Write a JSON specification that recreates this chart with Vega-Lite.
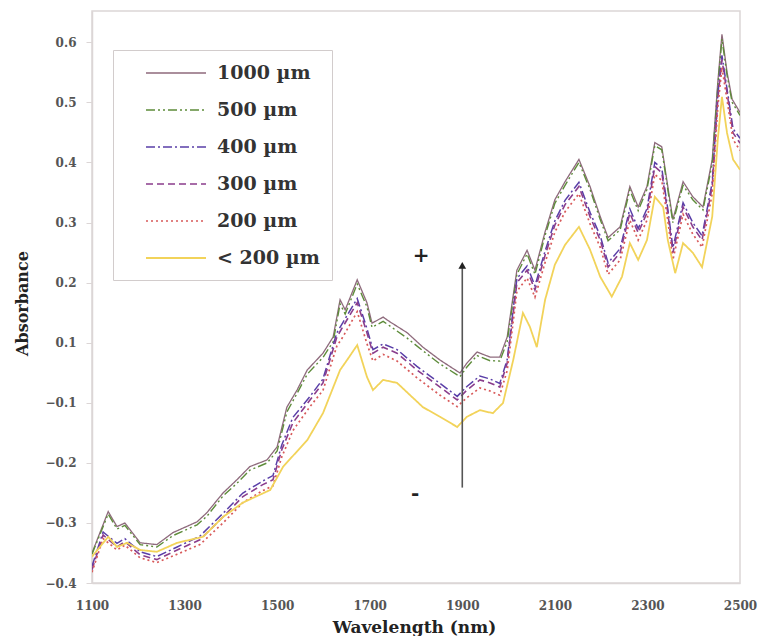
{
  "$schema": "https://vega.github.io/schema/vega-lite/v6.json",
  "width": 648,
  "height": 572,
  "autosize": {"type": "none"},
  "padding": {"left": 92, "top": 11, "right": 21, "bottom": 53},
  "background": "white",
  "datasets": {
    "spectra": [
      {"s":"1000 µm","w":1100,"a":-0.350},{"s":"1000 µm","w":1135,"a":-0.281},{"s":"1000 µm","w":1154,"a":-0.306},{"s":"1000 µm","w":1171,"a":-0.300},{"s":"1000 µm","w":1204,"a":-0.333},{"s":"1000 µm","w":1240,"a":-0.336},{"s":"1000 µm","w":1275,"a":-0.316},{"s":"1000 µm","w":1327,"a":-0.298},{"s":"1000 µm","w":1348,"a":-0.283},{"s":"1000 µm","w":1383,"a":-0.250},{"s":"1000 µm","w":1413,"a":-0.228},{"s":"1000 µm","w":1441,"a":-0.206},{"s":"1000 µm","w":1478,"a":-0.195},{"s":"1000 µm","w":1500,"a":-0.173},{"s":"1000 µm","w":1521,"a":-0.107},{"s":"1000 µm","w":1543,"a":-0.057},{"s":"1000 µm","w":1565,"a":0.010},{"s":"1000 µm","w":1599,"a":0.066},{"s":"1000 µm","w":1621,"a":0.110},{"s":"1000 µm","w":1636,"a":0.172},{"s":"1000 µm","w":1647,"a":0.155},{"s":"1000 µm","w":1673,"a":0.205},{"s":"1000 µm","w":1694,"a":0.167},{"s":"1000 µm","w":1705,"a":0.133},{"s":"1000 µm","w":1729,"a":0.143},{"s":"1000 µm","w":1744,"a":0.135},{"s":"1000 µm","w":1781,"a":0.117},{"s":"1000 µm","w":1815,"a":0.086},{"s":"1000 µm","w":1852,"a":0.043},{"s":"1000 µm","w":1895,"a":0.000},{"s":"1000 µm","w":1910,"a":0.033},{"s":"1000 µm","w":1932,"a":0.070},{"s":"1000 µm","w":1960,"a":0.053},{"s":"1000 µm","w":1981,"a":0.053},{"s":"1000 µm","w":1997,"a":0.110},{"s":"1000 µm","w":2018,"a":0.221},{"s":"1000 µm","w":2040,"a":0.254},{"s":"1000 µm","w":2057,"a":0.221},{"s":"1000 µm","w":2079,"a":0.285},{"s":"1000 µm","w":2100,"a":0.338},{"s":"1000 µm","w":2122,"a":0.368},{"s":"1000 µm","w":2152,"a":0.405},{"s":"1000 µm","w":2176,"a":0.360},{"s":"1000 µm","w":2198,"a":0.310},{"s":"1000 µm","w":2215,"a":0.275},{"s":"1000 µm","w":2241,"a":0.293},{"s":"1000 µm","w":2262,"a":0.360},{"s":"1000 µm","w":2280,"a":0.326},{"s":"1000 µm","w":2299,"a":0.360},{"s":"1000 µm","w":2316,"a":0.433},{"s":"1000 µm","w":2331,"a":0.426},{"s":"1000 µm","w":2344,"a":0.360},{"s":"1000 µm","w":2355,"a":0.305},{"s":"1000 µm","w":2377,"a":0.368},{"s":"1000 µm","w":2398,"a":0.343},{"s":"1000 µm","w":2420,"a":0.326},{"s":"1000 µm","w":2440,"a":0.405},{"s":"1000 µm","w":2452,"a":0.533},{"s":"1000 µm","w":2461,"a":0.613},{"s":"1000 µm","w":2472,"a":0.550},{"s":"1000 µm","w":2483,"a":0.505},{"s":"1000 µm","w":2500,"a":0.483},

      {"s":"500 µm","w":1100,"a":-0.352},{"s":"500 µm","w":1135,"a":-0.285},{"s":"500 µm","w":1154,"a":-0.310},{"s":"500 µm","w":1171,"a":-0.304},{"s":"500 µm","w":1204,"a":-0.336},{"s":"500 µm","w":1240,"a":-0.340},{"s":"500 µm","w":1275,"a":-0.321},{"s":"500 µm","w":1327,"a":-0.303},{"s":"500 µm","w":1348,"a":-0.289},{"s":"500 µm","w":1383,"a":-0.255},{"s":"500 µm","w":1413,"a":-0.234},{"s":"500 µm","w":1441,"a":-0.212},{"s":"500 µm","w":1478,"a":-0.200},{"s":"500 µm","w":1500,"a":-0.180},{"s":"500 µm","w":1521,"a":-0.115},{"s":"500 µm","w":1543,"a":-0.068},{"s":"500 µm","w":1565,"a":-0.004},{"s":"500 µm","w":1599,"a":0.052},{"s":"500 µm","w":1621,"a":0.102},{"s":"500 µm","w":1636,"a":0.165},{"s":"500 µm","w":1647,"a":0.148},{"s":"500 µm","w":1673,"a":0.198},{"s":"500 µm","w":1694,"a":0.160},{"s":"500 µm","w":1705,"a":0.126},{"s":"500 µm","w":1729,"a":0.136},{"s":"500 µm","w":1744,"a":0.128},{"s":"500 µm","w":1781,"a":0.108},{"s":"500 µm","w":1815,"a":0.074},{"s":"500 µm","w":1852,"a":0.030},{"s":"500 µm","w":1895,"a":-0.012},{"s":"500 µm","w":1910,"a":0.020},{"s":"500 µm","w":1932,"a":0.058},{"s":"500 µm","w":1960,"a":0.041},{"s":"500 µm","w":1981,"a":0.040},{"s":"500 µm","w":1997,"a":0.102},{"s":"500 µm","w":2018,"a":0.214},{"s":"500 µm","w":2040,"a":0.248},{"s":"500 µm","w":2057,"a":0.214},{"s":"500 µm","w":2079,"a":0.279},{"s":"500 µm","w":2100,"a":0.332},{"s":"500 µm","w":2122,"a":0.362},{"s":"500 µm","w":2152,"a":0.400},{"s":"500 µm","w":2176,"a":0.355},{"s":"500 µm","w":2198,"a":0.305},{"s":"500 µm","w":2215,"a":0.270},{"s":"500 µm","w":2241,"a":0.288},{"s":"500 µm","w":2262,"a":0.354},{"s":"500 µm","w":2280,"a":0.320},{"s":"500 µm","w":2299,"a":0.355},{"s":"500 µm","w":2316,"a":0.428},{"s":"500 µm","w":2331,"a":0.421},{"s":"500 µm","w":2344,"a":0.355},{"s":"500 µm","w":2355,"a":0.300},{"s":"500 µm","w":2377,"a":0.362},{"s":"500 µm","w":2398,"a":0.338},{"s":"500 µm","w":2420,"a":0.321},{"s":"500 µm","w":2440,"a":0.398},{"s":"500 µm","w":2452,"a":0.525},{"s":"500 µm","w":2461,"a":0.605},{"s":"500 µm","w":2472,"a":0.545},{"s":"500 µm","w":2483,"a":0.500},{"s":"500 µm","w":2500,"a":0.478},

      {"s":"400 µm","w":1100,"a":-0.372},{"s":"400 µm","w":1124,"a":-0.315},{"s":"400 µm","w":1154,"a":-0.334},{"s":"400 µm","w":1171,"a":-0.326},{"s":"400 µm","w":1204,"a":-0.348},{"s":"400 µm","w":1240,"a":-0.356},{"s":"400 µm","w":1284,"a":-0.340},{"s":"400 µm","w":1333,"a":-0.322},{"s":"400 µm","w":1383,"a":-0.284},{"s":"400 µm","w":1426,"a":-0.250},{"s":"400 µm","w":1469,"a":-0.230},{"s":"400 µm","w":1491,"a":-0.221},{"s":"400 µm","w":1510,"a":-0.170},{"s":"400 µm","w":1534,"a":-0.124},{"s":"400 µm","w":1571,"a":-0.078},{"s":"400 µm","w":1599,"a":-0.020},{"s":"400 µm","w":1629,"a":0.117},{"s":"400 µm","w":1642,"a":0.134},{"s":"400 µm","w":1673,"a":0.174},{"s":"400 µm","w":1694,"a":0.124},{"s":"400 µm","w":1707,"a":0.078},{"s":"400 µm","w":1729,"a":0.097},{"s":"400 µm","w":1759,"a":0.078},{"s":"400 µm","w":1802,"a":0.022},{"s":"400 µm","w":1852,"a":-0.035},{"s":"400 µm","w":1889,"a":-0.078},{"s":"400 µm","w":1910,"a":-0.045},{"s":"400 µm","w":1938,"a":-0.010},{"s":"400 µm","w":1960,"a":-0.020},{"s":"400 µm","w":1981,"a":-0.035},{"s":"400 µm","w":1997,"a":0.045},{"s":"400 µm","w":2018,"a":0.207},{"s":"400 µm","w":2040,"a":0.228},{"s":"400 µm","w":2057,"a":0.195},{"s":"400 µm","w":2079,"a":0.253},{"s":"400 µm","w":2100,"a":0.303},{"s":"400 µm","w":2122,"a":0.337},{"s":"400 µm","w":2152,"a":0.367},{"s":"400 µm","w":2176,"a":0.317},{"s":"400 µm","w":2198,"a":0.278},{"s":"400 µm","w":2215,"a":0.233},{"s":"400 µm","w":2241,"a":0.257},{"s":"400 µm","w":2262,"a":0.323},{"s":"400 µm","w":2280,"a":0.290},{"s":"400 µm","w":2299,"a":0.323},{"s":"400 µm","w":2316,"a":0.400},{"s":"400 µm","w":2331,"a":0.390},{"s":"400 µm","w":2344,"a":0.323},{"s":"400 µm","w":2355,"a":0.258},{"s":"400 µm","w":2377,"a":0.333},{"s":"400 µm","w":2398,"a":0.300},{"s":"400 µm","w":2418,"a":0.278},{"s":"400 µm","w":2440,"a":0.367},{"s":"400 µm","w":2452,"a":0.512},{"s":"400 µm","w":2461,"a":0.578},{"s":"400 µm","w":2472,"a":0.522},{"s":"400 µm","w":2485,"a":0.456},{"s":"400 µm","w":2500,"a":0.440},

      {"s":"300 µm","w":1100,"a":-0.378},{"s":"300 µm","w":1124,"a":-0.320},{"s":"300 µm","w":1154,"a":-0.340},{"s":"300 µm","w":1171,"a":-0.331},{"s":"300 µm","w":1204,"a":-0.353},{"s":"300 µm","w":1240,"a":-0.361},{"s":"300 µm","w":1284,"a":-0.345},{"s":"300 µm","w":1333,"a":-0.328},{"s":"300 µm","w":1383,"a":-0.290},{"s":"300 µm","w":1426,"a":-0.256},{"s":"300 µm","w":1469,"a":-0.236},{"s":"300 µm","w":1491,"a":-0.228},{"s":"300 µm","w":1510,"a":-0.178},{"s":"300 µm","w":1534,"a":-0.133},{"s":"300 µm","w":1571,"a":-0.090},{"s":"300 µm","w":1599,"a":-0.033},{"s":"300 µm","w":1629,"a":0.110},{"s":"300 µm","w":1642,"a":0.127},{"s":"300 µm","w":1673,"a":0.167},{"s":"300 µm","w":1694,"a":0.117},{"s":"300 µm","w":1707,"a":0.066},{"s":"300 µm","w":1729,"a":0.086},{"s":"300 µm","w":1759,"a":0.066},{"s":"300 µm","w":1802,"a":0.010},{"s":"300 µm","w":1852,"a":-0.047},{"s":"300 µm","w":1889,"a":-0.090},{"s":"300 µm","w":1910,"a":-0.057},{"s":"300 µm","w":1938,"a":-0.023},{"s":"300 µm","w":1960,"a":-0.033},{"s":"300 µm","w":1981,"a":-0.047},{"s":"300 µm","w":1997,"a":0.033},{"s":"300 µm","w":2018,"a":0.200},{"s":"300 µm","w":2040,"a":0.221},{"s":"300 µm","w":2057,"a":0.188},{"s":"300 µm","w":2079,"a":0.246},{"s":"300 µm","w":2100,"a":0.296},{"s":"300 µm","w":2122,"a":0.330},{"s":"300 µm","w":2152,"a":0.360},{"s":"300 µm","w":2176,"a":0.310},{"s":"300 µm","w":2198,"a":0.271},{"s":"300 µm","w":2215,"a":0.226},{"s":"300 µm","w":2241,"a":0.250},{"s":"300 µm","w":2262,"a":0.316},{"s":"300 µm","w":2280,"a":0.283},{"s":"300 µm","w":2299,"a":0.316},{"s":"300 µm","w":2316,"a":0.393},{"s":"300 µm","w":2331,"a":0.383},{"s":"300 µm","w":2344,"a":0.316},{"s":"300 µm","w":2355,"a":0.250},{"s":"300 µm","w":2377,"a":0.326},{"s":"300 µm","w":2398,"a":0.293},{"s":"300 µm","w":2418,"a":0.271},{"s":"300 µm","w":2440,"a":0.360},{"s":"300 µm","w":2452,"a":0.505},{"s":"300 µm","w":2461,"a":0.571},{"s":"300 µm","w":2472,"a":0.516},{"s":"300 µm","w":2485,"a":0.449},{"s":"300 µm","w":2500,"a":0.432},

      {"s":"200 µm","w":1100,"a":-0.382},{"s":"200 µm","w":1124,"a":-0.326},{"s":"200 µm","w":1154,"a":-0.345},{"s":"200 µm","w":1171,"a":-0.337},{"s":"200 µm","w":1204,"a":-0.358},{"s":"200 µm","w":1240,"a":-0.366},{"s":"200 µm","w":1284,"a":-0.352},{"s":"200 µm","w":1333,"a":-0.336},{"s":"200 µm","w":1383,"a":-0.300},{"s":"200 µm","w":1426,"a":-0.266},{"s":"200 µm","w":1469,"a":-0.246},{"s":"200 µm","w":1491,"a":-0.238},{"s":"200 µm","w":1510,"a":-0.190},{"s":"200 µm","w":1534,"a":-0.146},{"s":"200 µm","w":1571,"a":-0.106},{"s":"200 µm","w":1599,"a":-0.058},{"s":"200 µm","w":1629,"a":0.090},{"s":"200 µm","w":1642,"a":0.110},{"s":"200 µm","w":1673,"a":0.152},{"s":"200 µm","w":1694,"a":0.098},{"s":"200 µm","w":1707,"a":0.040},{"s":"200 µm","w":1729,"a":0.062},{"s":"200 µm","w":1759,"a":0.040},{"s":"200 µm","w":1802,"a":-0.016},{"s":"200 µm","w":1852,"a":-0.074},{"s":"200 µm","w":1889,"a":-0.106},{"s":"200 µm","w":1910,"a":-0.082},{"s":"200 µm","w":1938,"a":-0.050},{"s":"200 µm","w":1960,"a":-0.060},{"s":"200 µm","w":1981,"a":-0.074},{"s":"200 µm","w":1997,"a":0.008},{"s":"200 µm","w":2018,"a":0.186},{"s":"200 µm","w":2040,"a":0.208},{"s":"200 µm","w":2057,"a":0.176},{"s":"200 µm","w":2079,"a":0.234},{"s":"200 µm","w":2100,"a":0.284},{"s":"200 µm","w":2122,"a":0.318},{"s":"200 µm","w":2152,"a":0.348},{"s":"200 µm","w":2176,"a":0.298},{"s":"200 µm","w":2198,"a":0.259},{"s":"200 µm","w":2215,"a":0.214},{"s":"200 µm","w":2241,"a":0.238},{"s":"200 µm","w":2262,"a":0.304},{"s":"200 µm","w":2280,"a":0.271},{"s":"200 µm","w":2299,"a":0.304},{"s":"200 µm","w":2316,"a":0.380},{"s":"200 µm","w":2331,"a":0.370},{"s":"200 µm","w":2344,"a":0.304},{"s":"200 µm","w":2355,"a":0.238},{"s":"200 µm","w":2377,"a":0.314},{"s":"200 µm","w":2398,"a":0.281},{"s":"200 µm","w":2418,"a":0.259},{"s":"200 µm","w":2440,"a":0.348},{"s":"200 µm","w":2452,"a":0.492},{"s":"200 µm","w":2461,"a":0.558},{"s":"200 µm","w":2472,"a":0.504},{"s":"200 µm","w":2485,"a":0.438},{"s":"200 µm","w":2500,"a":0.420},

      {"s":"< 200 µm","w":1100,"a":-0.356},{"s":"< 200 µm","w":1135,"a":-0.323},{"s":"< 200 µm","w":1154,"a":-0.340},{"s":"< 200 µm","w":1176,"a":-0.333},{"s":"< 200 µm","w":1204,"a":-0.345},{"s":"< 200 µm","w":1240,"a":-0.348},{"s":"< 200 µm","w":1284,"a":-0.333},{"s":"< 200 µm","w":1340,"a":-0.323},{"s":"< 200 µm","w":1383,"a":-0.290},{"s":"< 200 µm","w":1426,"a":-0.266},{"s":"< 200 µm","w":1485,"a":-0.245},{"s":"< 200 µm","w":1513,"a":-0.206},{"s":"< 200 µm","w":1565,"a":-0.162},{"s":"< 200 µm","w":1599,"a":-0.117},{"s":"< 200 µm","w":1636,"a":0.010},{"s":"< 200 µm","w":1651,"a":0.043},{"s":"< 200 µm","w":1673,"a":0.093},{"s":"< 200 µm","w":1694,"a":-0.013},{"s":"< 200 µm","w":1707,"a":-0.057},{"s":"< 200 µm","w":1729,"a":-0.023},{"s":"< 200 µm","w":1759,"a":-0.033},{"s":"< 200 µm","w":1815,"a":-0.107},{"s":"< 200 µm","w":1852,"a":-0.123},{"s":"< 200 µm","w":1889,"a":-0.140},{"s":"< 200 µm","w":1910,"a":-0.123},{"s":"< 200 µm","w":1938,"a":-0.112},{"s":"< 200 µm","w":1966,"a":-0.117},{"s":"< 200 µm","w":1988,"a":-0.100},{"s":"< 200 µm","w":2010,"a":0.043},{"s":"< 200 µm","w":2031,"a":0.150},{"s":"< 200 µm","w":2046,"a":0.127},{"s":"< 200 µm","w":2061,"a":0.086},{"s":"< 200 µm","w":2079,"a":0.172},{"s":"< 200 µm","w":2100,"a":0.230},{"s":"< 200 µm","w":2122,"a":0.263},{"s":"< 200 µm","w":2152,"a":0.293},{"s":"< 200 µm","w":2176,"a":0.255},{"s":"< 200 µm","w":2198,"a":0.210},{"s":"< 200 µm","w":2223,"a":0.177},{"s":"< 200 µm","w":2245,"a":0.210},{"s":"< 200 µm","w":2262,"a":0.266},{"s":"< 200 µm","w":2280,"a":0.238},{"s":"< 200 µm","w":2299,"a":0.271},{"s":"< 200 µm","w":2316,"a":0.343},{"s":"< 200 µm","w":2334,"a":0.326},{"s":"< 200 µm","w":2344,"a":0.271},{"s":"< 200 µm","w":2360,"a":0.216},{"s":"< 200 µm","w":2377,"a":0.266},{"s":"< 200 µm","w":2398,"a":0.250},{"s":"< 200 µm","w":2418,"a":0.226},{"s":"< 200 µm","w":2440,"a":0.310},{"s":"< 200 µm","w":2452,"a":0.438},{"s":"< 200 µm","w":2461,"a":0.509},{"s":"< 200 µm","w":2472,"a":0.449},{"s":"< 200 µm","w":2485,"a":0.405},{"s":"< 200 µm","w":2500,"a":0.388}
    ]
  },
  "layer": [
    {
      "data": {"name": "spectra"},
      "mark": {"type": "line", "clip": true},
      "encoding": {
        "x": {"field": "w", "type": "quantitative", "title": "Wavelength (nm)",
          "scale": {"domain": [1100, 2500], "nice": false, "zero": false},
          "axis": {"values": [1100,1300,1500,1700,1900,2100,2300,2500], "format": "d", "ticks": false, "labelPadding": 17, "labelFlush": false,
            "titleFontSize": 17, "titleBaseline": "middle", "titleX": 322, "titleY": 44}},
        "y": {"field": "a", "type": "quantitative", "title": "Absorbance",
          "scale": {"domain": [-0.4, -0.1, 0.1, 0.6516], "range": [{"expr": "height"}, {"expr": "height*0.6853"}, {"expr": "height*0.5804"}, 0], "nice": false, "zero": false},
          "axis": {"values": [-0.4,-0.3,-0.2,-0.1,0.1,0.2,0.3,0.4,0.5,0.6], "format": ".1f", "tickSize": 6, "labelPadding": 10,
            "titleFontSize": 16, "titleBaseline": "middle", "titleX": -70, "titleY": 292}},
        "color": {"field": "s", "type": "nominal", "title": null,
          "scale": {"domain": ["1000 µm","500 µm","400 µm","300 µm","200 µm","< 200 µm"], "range": ["#8e6a7c","#5e8c3a","#5a3fa8","#8a3d8c","#d85a5a","#f2d35a"]}},
        "strokeDash": {"field": "s", "type": "nominal", "title": null,
          "scale": {"domain": ["1000 µm","500 µm","400 µm","300 µm","200 µm","< 200 µm"], "range": [[1,0],[9,3,2,3,2,3],[9,3,2,3],[7,4],[2,3],[1,0]]}},
        "strokeWidth": {"field": "s", "type": "nominal", "title": null,
          "scale": {"domain": ["1000 µm","500 µm","400 µm","300 µm","200 µm","< 200 µm"], "range": [1.3, 1.8, 2.3, 2.3, 1.8, 2.2]}}
      }
    },
    {
      "data": {"values": [{"w": 1900, "a": -0.241, "a2": 0.225}]},
      "mark": {"type": "rule", "color": "#555", "strokeWidth": 1.6},
      "encoding": {"x": {"field": "w", "type": "quantitative"}, "y": {"field": "a", "type": "quantitative"}, "y2": {"field": "a2"}}
    },
    {
      "data": {"values": [{"w": 1900, "a": 0.229}]},
      "mark": {"type": "point", "shape": "triangle-up", "filled": true, "color": "#222", "size": 60, "opacity": 1},
      "encoding": {"x": {"field": "w", "type": "quantitative"}, "y": {"field": "a", "type": "quantitative"}}
    },
    {
      "data": {"values": [{"w": 1811, "a": 0.245, "t": "+"}, {"w": 1798, "a": -0.251, "t": "-"}]},
      "mark": {"type": "text", "font": "DejaVu Serif", "fontWeight": "bold", "fontSize": 20, "color": "#222", "baseline": "middle", "align": "center"},
      "encoding": {"x": {"field": "w", "type": "quantitative"}, "y": {"field": "a", "type": "quantitative"}, "text": {"field": "t"}}
    }
  ],
  "config": {
    "view": {"stroke": "#dcd6d6", "strokeWidth": 1.5},
    "axis": {"labelFont": "DejaVu Serif", "labelFontWeight": "bold", "labelFontSize": 12, "labelColor": "#555",
      "titleFont": "DejaVu Serif", "titleFontWeight": "bold", "titleColor": "#222",
      "domainColor": "#dcd6d6", "domainWidth": 1.5, "tickColor": "#dcd6d6", "grid": false},
    "legend": {"orient": "none", "legendX": 21, "legendY": 39, "strokeColor": "#d2cccc", "fillColor": "white", "padding": 12,
      "symbolType": "M-1,0H5", "symbolSize": 400, "symbolOffset": 20, "labelFont": "DejaVu Serif", "labelFontWeight": "bold", "labelFontSize": 19,
      "labelColor": "#333", "labelOffset": 50, "rowPadding": 16}
  }
}
